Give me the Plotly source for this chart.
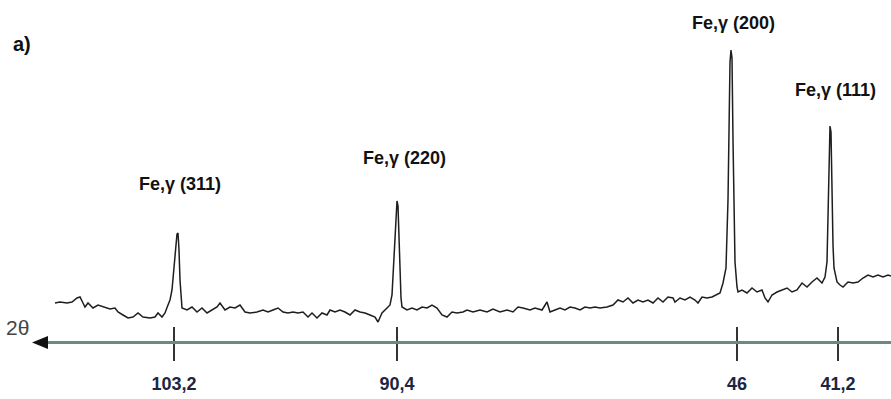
import plotly.graph_objects as go

# Schematic position along the 2θ axis (the reference axis is not to scale)
pos = [55, 60, 67, 72, 77, 80, 83, 85, 88, 93, 98, 103, 110, 115, 118, 123, 128, 133, 138, 143,
       150, 155, 158, 162, 165, 168, 170, 172, 174, 176, 177, 178, 179, 180, 181, 182,
       187, 192, 197, 202, 207, 212, 217, 220, 225, 230, 235, 240, 245, 250,
       257, 263, 268, 273, 278, 283, 288, 293, 298, 303, 308, 312, 317, 322, 327, 330,
       335, 340, 345, 350, 355, 360, 365, 370, 375, 378, 382, 387, 390,
       392, 394, 395, 396, 397, 398, 399, 400, 401, 402,
       407, 412, 417, 422, 427, 432, 437, 442, 447, 452, 457, 463,
       467, 473, 480, 487, 493, 500, 507, 513, 518, 523, 530, 535, 542, 547, 550,
       555, 560, 565, 570, 575, 580, 585, 590, 595, 600, 607, 613, 618, 623, 628,
       633, 638, 643, 648, 653, 658, 663, 668, 673,
       675, 680, 685, 690, 695, 698, 702, 707, 712, 717, 720, 723, 726,
       728, 729, 730, 731, 732, 733, 734, 735, 737,
       738, 742, 747, 752, 757, 762, 765, 768, 772, 777, 782, 787, 792, 797,
       802, 807, 812, 817, 822, 825, 827, 828, 829, 830, 831, 832, 833, 834,
       837, 840, 843, 848, 853, 858, 863, 868, 873, 878, 883, 888, 891]

# Intensity (arbitrary units)
counts = [38, 39, 38, 39, 43, 44, 38, 34, 38, 33, 36, 34, 32, 33, 29, 26, 23, 24, 28, 24,
          23, 24, 28, 24, 28, 36, 41, 51, 73, 98, 107, 108, 91, 61, 43, 33,
          31, 34, 29, 33, 28, 31, 34, 38, 31, 34, 33, 36, 29, 28,
          29, 31, 29, 31, 33, 29, 28, 29, 28, 29, 24, 28, 23, 28, 26, 31,
          29, 31, 29, 26, 31, 29, 28, 26, 24, 19, 28, 33, 36,
          46, 81, 106, 129, 140, 135, 101, 63, 43, 34,
          31, 33, 31, 34, 33, 36, 33, 26, 24, 29, 28, 29,
          31, 29, 31, 29, 32, 29, 31, 29, 34, 33, 31, 33, 31, 39, 29,
          31, 33, 31, 34, 33, 31, 34, 33, 34, 33, 34, 36, 41, 39, 43,
          38, 41, 39, 41, 38, 43, 39, 44, 43,
          39, 43, 41, 44, 41, 38, 44, 43, 44, 46, 48, 58, 73,
          141, 221, 279, 291, 283, 201, 116, 79, 54,
          49, 51, 48, 53, 49, 51, 43, 39, 46, 49, 51, 53, 49, 51,
          58, 54, 59, 63, 58, 64, 79, 136, 196, 215, 209, 146, 96, 73,
          59, 56, 54, 59, 58, 59, 63, 66, 64, 66, 64, 66, 65]

assert len(pos) == len(counts)

# Axis ticks (2θ values shown at schematic positions)
tick_pos = [174, 397, 737, 838]
tick_text = ["103,2", "90,4", "46", "41,2"]

# Peak labels
peak_labels = ["Fe,γ (311)", "Fe,γ (220)", "Fe,γ (200)", "Fe,γ (111)"]
label_x = [180, 404, 733, 835]
label_y = [157, 183, 318, 251]

FONT = "Liberation Sans Narrow, Liberation Sans, Arial Narrow, sans-serif"

fig = go.Figure()

fig.add_trace(go.Scatter(
    x=pos, y=counts, mode="lines",
    line=dict(color="#1e1e1e", width=1.5),
    hoverinfo="skip", showlegend=False,
))

# invisible trace so the overlay tick axis is rendered
fig.add_trace(go.Scatter(
    x=[tick_pos[0]], y=[0], mode="markers", xaxis="x2",
    marker=dict(size=1, color="rgba(0,0,0,0)"),
    hoverinfo="skip", showlegend=False,
))

for txt, x, y in zip(peak_labels, label_x, label_y):
    fig.add_annotation(x=x, y=y, xref="x", yref="y", text="<b>%s</b>" % txt,
                       showarrow=False, xanchor="center", yanchor="middle",
                       font=dict(family=FONT, size=18, color="#111111"))

fig.add_annotation(x=-41 / 846, y=14, xref="paper", yref="y", text="2θ",
                   showarrow=False, xanchor="left", yanchor="middle",
                   font=dict(family=FONT, size=21, color="#444444"))
fig.add_annotation(x=-34 / 846, y=297, xref="paper", yref="y", text="<b>a)</b>",
                   showarrow=False, xanchor="left", yanchor="middle",
                   font=dict(family=FONT, size=20, color="#111111"))

# arrow head at the left end of the 2θ axis
ph = 6.5 / 341
yc = -1.5 / 341
fig.add_shape(type="path", xref="paper", yref="paper",
              path="M %f,%f L %f,%f L %f,%f Z" % (-13 / 846, yc, 3 / 846, yc + ph, 3 / 846, yc - ph),
              fillcolor="#111111", line=dict(width=0), layer="above")

fig.update_layout(
    width=891, height=399,
    margin=dict(l=45, r=0, t=0, b=58),
    paper_bgcolor="white", plot_bgcolor="white",
    xaxis=dict(
        range=[45, 891], showgrid=False, zeroline=False,
        showline=True, linecolor="#6b8a82", linewidth=3,
        ticks="outside", ticklen=17, tickwidth=1.5, tickcolor="#333333",
        tickvals=tick_pos, ticktext=["<b>%s</b>" % t for t in tick_text],
        tickfont=dict(family=FONT, size=18, color="#1c2541"),
        ticklabelstandoff=7,
    ),
    xaxis2=dict(
        overlaying="x", matches="x", side="bottom", anchor="y",
        showgrid=False, zeroline=False, showline=False,
        ticks="inside", ticklen=14, tickwidth=1.5, tickcolor="#333333",
        tickvals=tick_pos, showticklabels=False,
    ),
    yaxis=dict(range=[0, 341], visible=False),
)

fig.write_html("out.html")
